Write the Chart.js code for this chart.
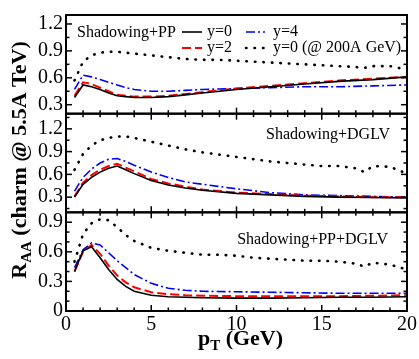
<!DOCTYPE html>
<html lang="en">
<head>
<meta charset="UTF-8">
<title>Charm R_AA</title>
<script src="https://cdn.jsdelivr.net/npm/chart.js"></script>
<style>
  html, body { margin: 0; padding: 0; background: #fff; }
  #wrap { position: relative; width: 419px; height: 359px; }
</style>
</head>
<body>
<div id="wrap"><canvas id="raa"></canvas></div>
<script>
// pT grids (GeV)
const pt = [0.5, 1, 1.5, 2, 2.5, 3, 3.5, 4, 5, 6, 7, 8, 10, 12, 14, 16, 18, 20];
const ptRhic = [0.5, 1, 1.5, 2, 2.5, 3, 3.5, 4, 5, 6, 7, 8, 9, 10, 11, 12, 13, 14, 15, 16, 17, 17.5, 18, 19, 20];

// Shadowing+PP
const topY0 = [0.38, 0.52, 0.50, 0.47, 0.43, 0.40, 0.39, 0.38, 0.38, 0.39, 0.41, 0.43, 0.47, 0.50, 0.53, 0.56, 0.58, 0.61];
const topY2 = [0.40, 0.55, 0.53, 0.49, 0.45, 0.41, 0.40, 0.39, 0.39, 0.40, 0.42, 0.44, 0.48, 0.51, 0.54, 0.57, 0.59, 0.61];
const topY4 = [0.47, 0.63, 0.61, 0.58, 0.55, 0.52, 0.49, 0.47, 0.45, 0.45, 0.46, 0.47, 0.48, 0.49, 0.50, 0.50, 0.51, 0.52];
const topRhic = [0.57, 0.78, 0.85, 0.88, 0.89, 0.89, 0.88, 0.87, 0.85, 0.83, 0.81, 0.80, 0.80, 0.79, 0.78, 0.77, 0.76, 0.75, 0.74, 0.73, 0.72, 0.71, 0.73, 0.73, 0.69];

// Shadowing+DGLV
const midY0 = [0.30, 0.47, 0.56, 0.63, 0.68, 0.71, 0.66, 0.61, 0.52, 0.46, 0.42, 0.39, 0.35, 0.33, 0.31, 0.30, 0.295, 0.29];
const midY2 = [0.31, 0.49, 0.59, 0.66, 0.71, 0.74, 0.69, 0.64, 0.54, 0.48, 0.44, 0.40, 0.36, 0.34, 0.32, 0.31, 0.30, 0.30];
const midY4 = [0.38, 0.56, 0.67, 0.75, 0.80, 0.81, 0.77, 0.72, 0.63, 0.56, 0.50, 0.47, 0.41, 0.36, 0.33, 0.32, 0.31, 0.30];
const midRhic = [0.66, 0.87, 0.98, 1.05, 1.08, 1.10, 1.10, 1.08, 1.03, 0.98, 0.93, 0.89, 0.86, 0.83, 0.80, 0.77, 0.75, 0.73, 0.71, 0.71, 0.68, 0.63, 0.71, 0.70, 0.61];

// Shadowing+PP+DGLV
const botY0 = [0.40, 0.61, 0.65, 0.54, 0.42, 0.32, 0.25, 0.20, 0.16, 0.145, 0.14, 0.135, 0.13, 0.13, 0.135, 0.14, 0.14, 0.145];
const botY2 = [0.40, 0.60, 0.67, 0.58, 0.46, 0.36, 0.29, 0.24, 0.19, 0.17, 0.16, 0.155, 0.15, 0.15, 0.15, 0.15, 0.155, 0.16];
const botY4 = [0.44, 0.62, 0.69, 0.67, 0.59, 0.51, 0.44, 0.37, 0.28, 0.23, 0.21, 0.20, 0.195, 0.19, 0.185, 0.18, 0.18, 0.18];
const botRhic = [0.50, 0.78, 0.89, 0.93, 0.92, 0.85, 0.77, 0.71, 0.64, 0.61, 0.59, 0.57, 0.57, 0.56, 0.54, 0.53, 0.52, 0.51, 0.51, 0.50, 0.48, 0.45, 0.49, 0.47, 0.42];

const seriesLabels = ['y=0', 'y=2', 'y=4', 'y=0 (@ 200A GeV)'];
const panelLabels = ['Shadowing+PP', 'Shadowing+DGLV', 'Shadowing+PP+DGLV'];

const xTicks = [0, 5, 10, 15, 20];
const yTicksTop = [0.3, 0.6, 0.9, 1.2];
const yTicksMid = [0.3, 0.6, 0.9, 1.2];
const yTicksBot = [0, 0.3, 0.6, 0.9];

const SERIF = "'Liberation Serif', 'Times New Roman', serif";

const styles = [
  { color: '#000000', width: 1.6, dash: [] },
  { color: '#ff0000', width: 2, dash: [9, 4] },
  { color: '#0000ff', width: 1.6, dash: [9, 3, 2, 3] },
  { color: '#000000', width: 2.6, dash: [0.5, 8], cap: 'round' }
];

function makeSet(axis, xs, ys, k) {
  const st = styles[k];
  return {
    label: seriesLabels[k],
    yAxisID: axis,
    data: xs.map((x, i) => ({ x: x, y: ys[i] })),
    borderColor: st.color,
    borderWidth: st.width,
    borderDash: st.dash,
    borderCapStyle: st.cap || 'butt',
    pointRadius: 0,
    fill: false,
    tension: 0
  };
}

const datasets = [
  makeSet('yTop', pt, topY0, 0), makeSet('yTop', pt, topY2, 1), makeSet('yTop', pt, topY4, 2), makeSet('yTop', ptRhic, topRhic, 3),
  makeSet('yMid', pt, midY0, 0), makeSet('yMid', pt, midY2, 1), makeSet('yMid', pt, midY4, 2), makeSet('yMid', ptRhic, midRhic, 3),
  makeSet('yBot', pt, botY0, 0), makeSet('yBot', pt, botY2, 1), makeSet('yBot', pt, botY4, 2), makeSet('yBot', ptRhic, botRhic, 3)
];

function yAxis(min, max, ticks, weight) {
  return {
    type: 'linear',
    position: 'left',
    stack: 'panels',
    stackWeight: 1,
    weight: weight,
    min: min,
    max: max,
    afterBuildTicks: s => { s.ticks = ticks.map(v => ({ value: v })); },
    afterFit: s => { s.width = 66; },
    ticks: {
      font: { family: SERIF, size: 20 },
      color: '#000',
      padding: 3,
      autoSkip: false,
      callback: v => (v === 0 ? '0' : v.toFixed(1))
    },
    grid: { display: false, drawTicks: false },
    border: { display: false }
  };
}

// inward tick marks + frames for each panel
const framePlugin = {
  id: 'framePlugin',
  afterDatasetsDraw(chart) {
    const { ctx, chartArea, scales } = chart;
    const x = scales.x;
    const left = chartArea.left, right = chartArea.right;
    const minorSteps = { yTop: 0.15, yMid: 0.15, yBot: 0.1 };
    ctx.save();
    ctx.strokeStyle = '#000';
    function seg(x1, y1, x2, y2) {
      ctx.beginPath(); ctx.moveTo(x1, y1); ctx.lineTo(x2, y2); ctx.stroke();
    }
    ['yTop', 'yMid', 'yBot'].forEach((id, i) => {
      const s = scales[id];
      const top = s.top, bottom = s.bottom;
      ctx.lineWidth = 1.5;
      for (let v = 0; v <= 20; v++) {
        const px = x.getPixelForValue(v);
        const len = v % 5 === 0 ? 6 : 3.5;
        seg(px, bottom, px, bottom - len);
        if (i > 0) seg(px, top, px, top + len);
      }
      const step = minorSteps[id];
      const n = Math.round((s.max - s.min) / step) + 2;
      const start = Math.ceil(s.min / step - 1e-6) * step;
      for (let k = 0; k < n; k++) {
        const v = +(start + k * step).toFixed(4);
        if (v > s.max + 1e-6) break;
        const py = s.getPixelForValue(v);
        if (py < top + 1 || py > bottom - 1) continue;
        const major = Math.abs(v / 0.3 - Math.round(v / 0.3)) < 1e-4;
        const len = major ? 6 : 3.5;
        seg(left, py, left + len, py);
        seg(right, py, right - len, py);
      }
      ctx.lineWidth = 2;
      ctx.strokeRect(left, top, right - left, bottom - top);
    });
    ctx.restore();
  },
  afterDraw(chart) {
    const { ctx, chartArea, scales } = chart;
    const left = chartArea.left, right = chartArea.right;
    ctx.save();
    ctx.fillStyle = '#000';
    ctx.textBaseline = 'middle';
    ctx.font = '16px ' + SERIF;

    // top panel label + legend
    const top0 = scales.yTop.top;
    ctx.textAlign = 'left';
    ctx.fillText(panelLabels[0], left + 11, top0 + 18);
    const cols = [{ x0: left + 116, x1: left + 136, tx: left + 141 }, { x0: left + 180, x1: left + 199, tx: left + 207 }];
    const rows = [top0 + 17, top0 + 33];
    const order = [[0, 0, 0], [1, 0, 1], [2, 1, 0], [3, 1, 1]];
    order.forEach(([k, c, r]) => {
      const st = styles[k];
      const col = cols[c];
      const y = rows[r];
      ctx.save();
      ctx.strokeStyle = st.color;
      ctx.lineWidth = st.width;
      ctx.lineCap = st.cap || 'butt';
      ctx.setLineDash(st.dash);
      ctx.beginPath();
      ctx.moveTo(col.x0, y);
      ctx.lineTo(col.x1, y);
      ctx.stroke();
      ctx.restore();
      ctx.fillText(seriesLabels[k], col.tx, y);
    });

    ctx.textAlign = 'right';
    ctx.fillText(panelLabels[1], right - 17, scales.yMid.top + 21);
    ctx.fillText(panelLabels[2], right - 19, scales.yBot.top + 27);

    // x title: p_T (GeV)
    ctx.textAlign = 'left';
    ctx.textBaseline = 'alphabetic';
    const big = 'bold 22px ' + SERIF, sub = 'bold 15px ' + SERIF;
    ctx.font = big; const wp = ctx.measureText('p').width;
    ctx.font = sub; const wt = ctx.measureText('T').width;
    ctx.font = big; const wr = ctx.measureText(' (GeV)').width;
    let xs = (left + right) / 2 + 4 - (wp + wt + wr) / 2;
    const by = chartArea.bottom + 34;
    ctx.fillText('p', xs, by);
    ctx.font = sub; ctx.fillText('T', xs + wp, by + 5);
    ctx.font = big; ctx.fillText(' (GeV)', xs + wp + wt, by);

    // y title: R_AA (charm @ 5.5A TeV)
    ctx.save();
    ctx.translate(26, (chartArea.top + chartArea.bottom) / 2 - 3);
    ctx.rotate(-Math.PI / 2);
    const ybig = 'bold 22px ' + SERIF, ysub = 'bold 15px ' + SERIF;
    ctx.font = ybig; const wR = ctx.measureText('R').width;
    ctx.font = ysub; const wA = ctx.measureText('AA').width;
    ctx.font = ybig; const wRest = ctx.measureText(' (charm @ 5.5A TeV)').width;
    let tx = -(wR + wA + wRest) / 2;
    ctx.fillText('R', tx, 0);
    ctx.font = ysub; ctx.fillText('AA', tx + wR, 5);
    ctx.font = ybig; ctx.fillText(' (charm @ 5.5A TeV)', tx + wR + wA, 0);
    ctx.restore();

    ctx.restore();
  }
};

new Chart(document.getElementById('raa'), {
  type: 'line',
  data: { datasets: datasets },
  options: {
    responsive: true,
    maintainAspectRatio: false,
    animation: false,
    layout: { padding: { top: 4, right: 12, left: 0, bottom: 0 } },
    plugins: { legend: { display: false }, tooltip: { enabled: false } },
    scales: {
      x: {
        type: 'linear',
        min: 0,
        max: 20,
        afterBuildTicks: s => { s.ticks = xTicks.map(v => ({ value: v })); },
        afterFit: s => { s.height = 48; },
        ticks: { font: { family: SERIF, size: 20 }, color: '#000', padding: 2, maxRotation: 0, autoSkip: false },
        grid: { display: false, drawTicks: false },
        border: { display: false }
      },
      yTop: yAxis(0.2, 1.3, yTicksTop, 3),
      yMid: yAxis(0.1, 1.4, yTicksMid, 2),
      yBot: yAxis(0, 1.0, yTicksBot, 1)
    }
  },
  plugins: [framePlugin]
});
</script>
</body>
</html>
